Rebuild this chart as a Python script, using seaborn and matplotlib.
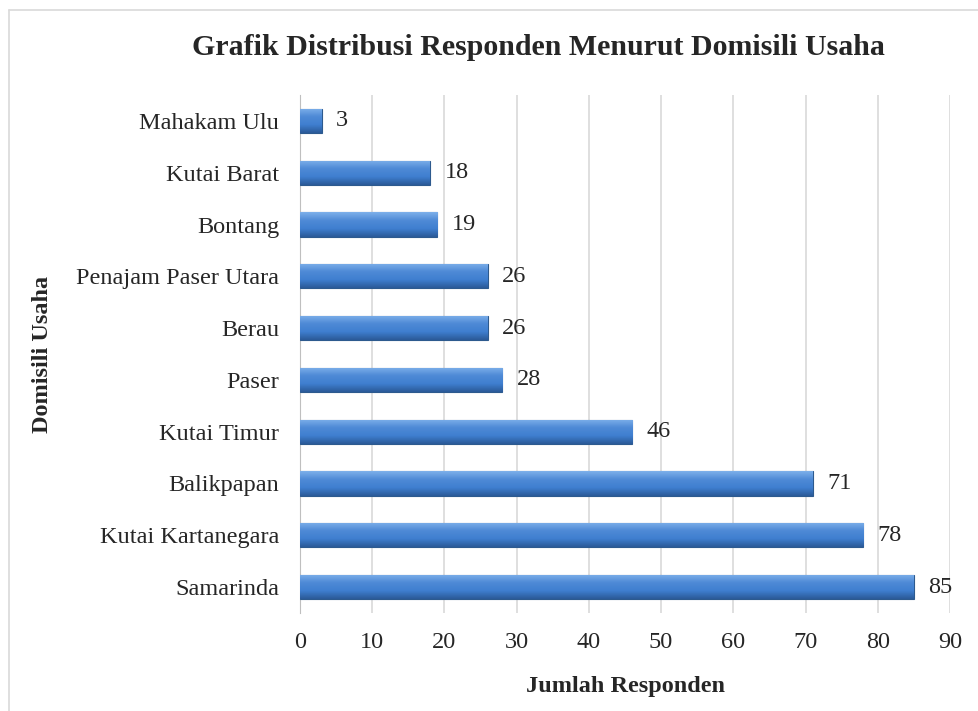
import numpy as np
import pandas as pd
import matplotlib
matplotlib.use('Agg')
import matplotlib.pyplot as plt
import seaborn as sns
from matplotlib.lines import Line2D
from matplotlib.colors import LinearSegmentedColormap

daerah = ['Mahakam Ulu', 'Kutai Barat', 'Bontang', 'Penajam Paser Utara', 'Berau',
          'Paser', 'Kutai Timur', 'Balikpapan', 'Kutai Kartanegara', 'Samarinda']
jumlah = [3, 18, 19, 26, 26, 28, 46, 71, 78, 85]
xticks = [0, 10, 20, 30, 40, 50, 60, 70, 80, 90]

df = pd.DataFrame({'Domisili': daerah, 'Jumlah': jumlah})

sns.set_style('white')
plt.rcParams['font.family'] = ['Liberation Serif', 'DejaVu Serif']

fs = 17.5
fig = plt.figure(figsize=(9.79, 7.11), dpi=100)
ax = fig.add_axes([300 / 979, 1 - 613 / 711, 650 / 979, 518 / 711])

sns.barplot(data=df, y='Domisili', x='Jumlah', orient='h', color='#4a7ebb',
            width=0.47, edgecolor='#2d5a8e', linewidth=0.8, ax=ax, zorder=3)

# gradient fill on each bar (bevel look)
cmap = LinearSegmentedColormap.from_list('bev', ['#7db0ea', '#4f8ad6', '#3f7fd0', '#2b5a98'])
grad = np.linspace(0, 1, 64).reshape(-1, 1)
for p in ax.patches:
    x0, y0 = p.get_x(), p.get_y()
    w, h = p.get_width(), p.get_height()
    im = ax.imshow(grad, cmap=cmap, aspect='auto', extent=(x0, x0 + w, y0 + h, y0),
                   origin='upper', zorder=3.5)
    im.set_clip_path(p)
    ax.text(x0 + w + 2.0, y0 + h / 2, str(int(w)), va='center', ha='left', fontsize=fs, zorder=5)

ax.set_xlim(0, 90)
ax.set_xticks(xticks)
ax.set_ylim(9.5, -0.5)
ax.grid(axis='x', color='#d9d9d9', linewidth=1.2, zorder=0)
for s in ['top', 'right', 'bottom']:
    ax.spines[s].set_visible(False)
ax.spines['left'].set_color('#bfbfbf')
ax.tick_params(axis='both', length=0, labelsize=fs)
ax.tick_params(axis='y', pad=15)
ax.tick_params(axis='x', pad=14)
ax.set_xlabel('Jumlah Responden', fontsize=fs, fontweight='bold', va='baseline')
ax.xaxis.set_label_coords((626 - 300) / 650, -(692 - 613) / 518)
ax.set_ylabel('Domisili Usaha', fontsize=fs, fontweight='bold')
ax.yaxis.set_label_coords(-(300 - 53) / 650, 0.5)

fig.text(538 / 979, 1 - 55 / 711, 'Grafik Distribusi Responden Menurut Domisili Usaha',
         ha='center', va='baseline', fontsize=21.5, fontweight='bold')

# chart frame (top and left edges visible)
fig.add_artist(Line2D([9 / 979, 1], [1 - 10 / 711, 1 - 10 / 711], color='#d9d9d9', lw=1.2))
fig.add_artist(Line2D([9 / 979, 9 / 979], [0, 1 - 10 / 711], color='#d9d9d9', lw=1.2))

fig.savefig('out.png', dpi=100)
